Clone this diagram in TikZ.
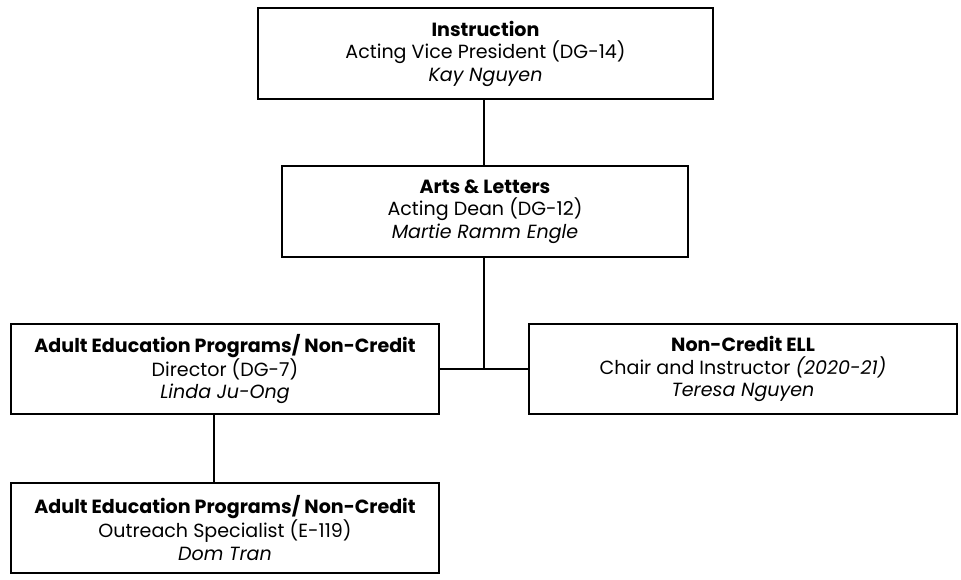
\documentclass[tikz,border=0pt]{standalone}
\usepackage{fontspec}
\setmainfont{Poppins}
\begin{document}
\begin{tikzpicture}[x=0.75pt,y=-0.75pt,
  orgbox/.style={draw=black,line width=1.3pt,fill=white,inner sep=0pt,align=center,
    font=\fontsize{14.3}{16.9}\selectfont},
  link/.style={draw=black,line width=1pt}]
\useasboundingbox (0,0) rectangle (961,579);
\node[orgbox,minimum width=455*0.75pt,minimum height=91*0.75pt] (instr) at (485.5,53.5)
  {\textbf{Instruction}\\Acting Vice President (DG-14)\\\textit{Kay Nguyen}};
\node[orgbox,minimum width=406*0.75pt,minimum height=91*0.75pt] (arts) at (485,211.5)
  {\textbf{Arts \& Letters}\\Acting Dean (DG-12)\\\textit{Martie Ramm Engle}};
\node[orgbox,minimum width=428*0.75pt,minimum height=90*0.75pt] (adult) at (225,369)
  {\textbf{Adult Education Programs/ Non-Credit}\\Director (DG-7)\\\textit{Linda Ju-Ong}};
\node[orgbox,minimum width=428*0.75pt,minimum height=90*0.75pt] (ell) at (743,369)
  {\textbf{Non-Credit ELL}\\Chair and Instructor \textit{(2020-21)}\\\textit{Teresa Nguyen}};
\node[orgbox,minimum width=428*0.75pt,minimum height=90*0.75pt] (outreach) at (225,528)
  {\textbf{Adult Education Programs/ Non-Credit}\\Outreach Specialist (E-119)\\\textit{Dom Tran}};
\coordinate (junc) at (484,369);
\draw[link] (instr.south -| junc) -- (arts.north -| junc);
\draw[link] (arts.south -| junc) -- (junc);
\draw[link] (adult.east) -- (ell.west);
\coordinate (dn) at (214,414);
\draw[link] (adult.south -| dn) -- (outreach.north -| dn);
\end{tikzpicture}
\end{document}
